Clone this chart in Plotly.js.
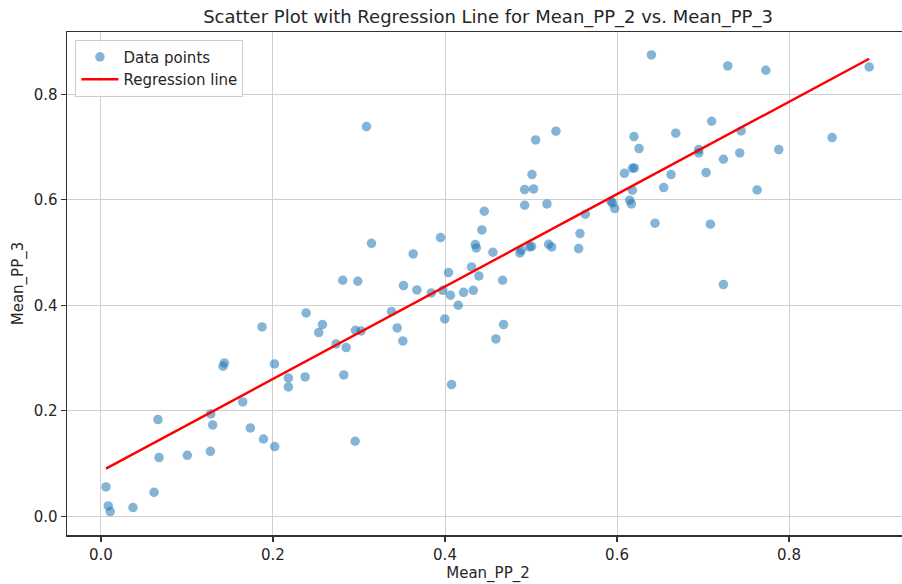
<!DOCTYPE html>
<html>
<head>
<meta charset="utf-8">
<script src="https://cdn.plot.ly/plotly-3.0.1.min.js"></script>
<style>
html, body { margin: 0; padding: 0; overflow: hidden; background: #fff; }
#chart { width: 912px; height: 584px; }
</style>
</head>
<body>
<div id="chart"></div>
<script>
// Data
const meanPP2 = [
  0.0058, 0.0085, 0.0108, 0.0372, 0.0617, 0.0663, 0.0675, 0.1004, 0.1272, 0.1276,
  0.1299, 0.1419, 0.1435, 0.1648, 0.1737, 0.1873, 0.1889, 0.2017, 0.2020, 0.2179,
  0.2179, 0.2374, 0.2385, 0.2575, 0.2532, 0.2734, 0.2851, 0.2823, 0.2959, 0.3025,
  0.3378, 0.3444, 0.3510, 0.2955, 0.3998, 0.4154, 0.4076, 0.3087, 0.3145, 0.3948,
  0.3630, 0.2811, 0.2986, 0.3518, 0.3673, 0.3840, 0.3975, 0.4064, 0.4041, 0.4216,
  0.4329, 0.4309, 0.4352, 0.4364, 0.5054, 0.5290, 0.5011, 0.4926, 0.5030, 0.4926,
  0.5185, 0.4457, 0.4429, 0.4557, 0.4394, 0.4670, 0.4871, 0.4887, 0.4984, 0.5007,
  0.5205, 0.5240, 0.5554, 0.5569, 0.5632, 0.5930, 0.5946, 0.5973, 0.6086, 0.6179,
  0.6202, 0.6197, 0.6256, 0.6179, 0.6147, 0.6167, 0.6400, 0.7288, 0.7730, 0.8932,
  0.6683, 0.7101, 0.7443, 0.7881, 0.8501, 0.6950, 0.6950, 0.7237, 0.7427, 0.7036,
  0.6628, 0.6543, 0.7629, 0.6442, 0.7086, 0.7237, 0.4681, 0.4592
];
const meanPP3 = [
  0.0556, 0.0196, 0.0089, 0.0164, 0.0455, 0.1833, 0.1113, 0.1156, 0.1232, 0.1940,
  0.1731, 0.2844, 0.2906, 0.2167, 0.1674, 0.3589, 0.1465, 0.2887, 0.1321, 0.2622,
  0.2451, 0.2641, 0.3854, 0.3634, 0.3482, 0.3266, 0.3198, 0.2679, 0.3526, 0.3513,
  0.3880, 0.3570, 0.3323, 0.1422, 0.3741, 0.4000, 0.2497, 0.7387, 0.5175, 0.5283,
  0.4973, 0.4474, 0.4455, 0.4373, 0.4290, 0.4233, 0.4284, 0.4190, 0.4620, 0.4246,
  0.4284, 0.4726, 0.5151, 0.5087, 0.7134, 0.7299, 0.6478, 0.6193, 0.6205, 0.5896,
  0.5921, 0.5782, 0.5428, 0.5005, 0.4556, 0.4474, 0.4992, 0.5043, 0.5105, 0.5118,
  0.5156, 0.5105, 0.5074, 0.5359, 0.5725, 0.5972, 0.5940, 0.5833, 0.6502, 0.6597,
  0.6603, 0.7198, 0.6971, 0.6180, 0.5991, 0.5921, 0.8745, 0.8537, 0.8455, 0.8518,
  0.7261, 0.7488, 0.7305, 0.6952, 0.7179, 0.6952, 0.6888, 0.6768, 0.6888, 0.6516,
  0.6478, 0.6231, 0.6186, 0.5555, 0.5536, 0.4392, 0.3634, 0.3361
];
const xTicks = [0.0, 0.2, 0.4, 0.6, 0.8];
const xTickLabels = ['0.0', '0.2', '0.4', '0.6', '0.8'];
const yTicks = [0.0, 0.2, 0.4, 0.6, 0.8];
const yTickLabels = ['0.0', '0.2', '0.4', '0.6', '0.8'];

// Least-squares regression fitted from the data
const n = meanPP2.length;
const mx = meanPP2.reduce((a, b) => a + b, 0) / n;
const my = meanPP3.reduce((a, b) => a + b, 0) / n;
let sxy = 0, sxx = 0;
for (let i = 0; i < n; i++) {
  sxy += (meanPP2[i] - mx) * (meanPP3[i] - my);
  sxx += (meanPP2[i] - mx) * (meanPP2[i] - mx);
}
const slope = sxy / sxx;
const intercept = my - slope * mx;
const sortedX = meanPP2.slice().sort((a, b) => a - b);
const lineY = sortedX.map(v => intercept + slope * v);

const font = 'DejaVu Sans, Liberation Sans, sans-serif';
const gridColor = '#cfcfcf';
const textColor = '#262626';

const traces = [
  {
    type: 'scatter', mode: 'markers', name: 'Data points',
    x: meanPP2, y: meanPP3,
    marker: { color: '#1f77b4', size: 9.5, opacity: 0.55, line: { width: 0 } },
    hoverinfo: 'x+y'
  },
  {
    type: 'scatter', mode: 'lines', name: 'Regression line',
    x: sortedX, y: lineY,
    line: { color: '#ff0000', width: 2.4 },
    hoverinfo: 'skip'
  }
];

const layout = {
  width: 912, height: 584,
  margin: { l: 67, r: 3, t: 32, b: 49, autoexpand: false },
  paper_bgcolor: '#ffffff', plot_bgcolor: '#ffffff',
  font: { family: font, size: 15, color: textColor },
  showlegend: true,
  title: {
    text: 'Scatter Plot with Regression Line for Mean_PP_2 vs. Mean_PP_3',
    font: { family: font, size: 18, color: textColor },
    x: 0.5, xref: 'paper', xanchor: 'center',
    y: 1 - 17 / 584, yref: 'container', yanchor: 'middle'
  },
  xaxis: {
    range: [-0.0395, 0.9395],
    tickvals: xTicks, ticktext: xTickLabels,
    showgrid: true, gridcolor: gridColor, gridwidth: 1,
    zeroline: false,
    showline: true, linecolor: '#333', linewidth: 1.5, mirror: true,
    ticks: 'outside', ticklen: 5, tickcolor: '#333', tickwidth: 1.2,
    tickfont: { family: font, size: 15, color: textColor },
    automargin: false,
    title: { text: 'Mean_PP_2', font: { family: font, size: 15, color: textColor }, standoff: 4 }
  },
  yaxis: {
    range: [-0.0355, 0.918],
    tickvals: yTicks, ticktext: yTickLabels,
    showgrid: true, gridcolor: gridColor, gridwidth: 1,
    zeroline: false,
    showline: true, linecolor: '#333', linewidth: 1.5, mirror: true,
    ticks: 'outside', ticklen: 5, tickcolor: '#333', tickwidth: 1.2,
    tickfont: { family: font, size: 15, color: textColor },
    automargin: false,
    title: { text: 'Mean_PP_3', font: { family: font, size: 15, color: textColor }, standoff: 6 }
  },
  legend: {
    x: 0.01, y: 0.985, xanchor: 'left', yanchor: 'top',
    bgcolor: 'rgba(255,255,255,0.85)', bordercolor: '#cccccc', borderwidth: 1,
    font: { family: font, size: 15, color: textColor },
    itemwidth: 37, tracegroupgap: 0
  }
};

Plotly.newPlot('chart', traces, layout, { displayModeBar: false, staticPlot: true });
</script>
</body>
</html>
